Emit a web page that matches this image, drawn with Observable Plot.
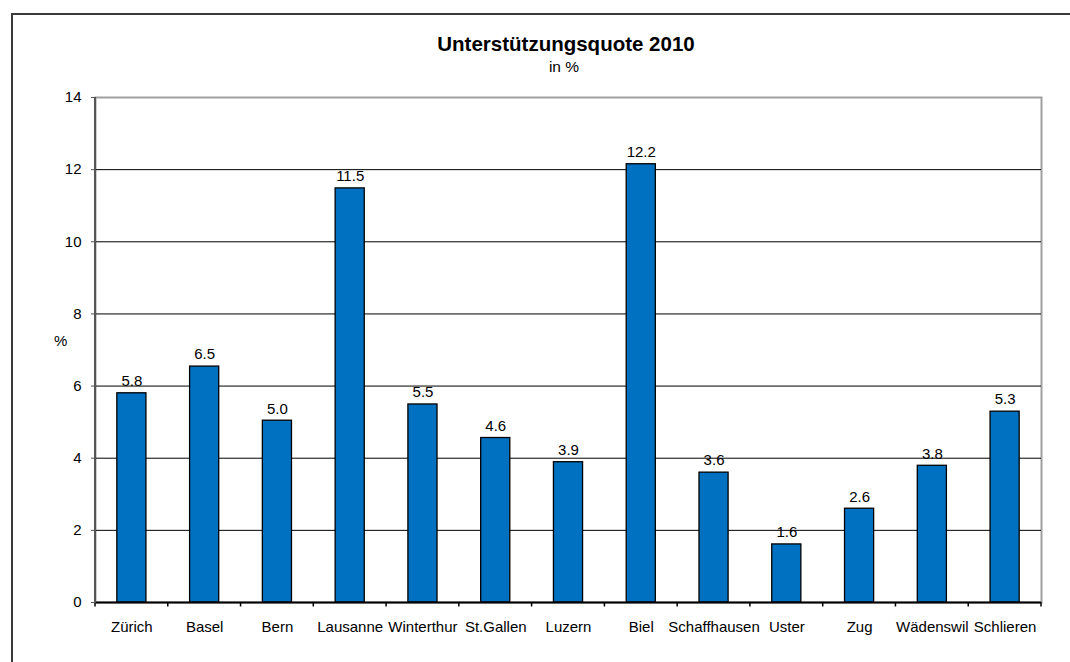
<!DOCTYPE html>
<html>
<head>
<meta charset="utf-8">
<script src="https://cdn.jsdelivr.net/npm/d3@7"></script>
<script src="https://cdn.jsdelivr.net/npm/@observablehq/plot@0.6"></script>
<style>
  html, body { margin: 0; padding: 0; background: #fff; overflow: hidden; }
  #wrap { position: relative; width: 1070px; height: 662px; font-family: "Liberation Sans", Arial, sans-serif; color: #000; }
  #frame { position: absolute; left: 11px; top: 13px; width: 1100px; height: 700px; border-left: 2px solid #3a3a3a; border-top: 2px solid #3a3a3a; }
  #title { position: absolute; left: 93px; width: 946px; top: 34px; text-align: center; font-weight: bold; font-size: 20.5px; line-height: 20px; }
  #subtitle { position: absolute; left: 91px; width: 946px; top: 58.5px; text-align: center; font-size: 15.5px; line-height: 15.5px; }
  #ylab { position: absolute; left: 54px; top: 332px; font-size: 15px; line-height: 17px; }
  #chart { position: absolute; left: 0; top: 80px; }
</style>
</head>
<body>
<div id="wrap">
  <div id="frame"></div>
  <div id="title">Unterstützungsquote 2010</div>
  <div id="subtitle">in %</div>
  <div id="ylab">%</div>
  <div id="chart"></div>
</div>
<script>
const categories = ["Zürich", "Basel", "Bern", "Lausanne", "Winterthur", "St.Gallen", "Luzern", "Biel", "Schaffhausen", "Uster", "Zug", "Wädenswil", "Schlieren"];
const values = [5.80, 6.54, 5.04, 11.48, 5.49, 4.56, 3.89, 12.15, 3.60, 1.61, 2.60, 3.79, 5.29];
const yTicks = [0, 2, 4, 6, 8, 10, 12, 14];

const data = categories.map((c, i) => ({city: c, value: values[i]}));

const plot = Plot.plot({
  width: 1070,
  height: 582,
  marginTop: 17,
  marginLeft: 95,
  marginRight: 29,
  marginBottom: 60,
  style: {fontFamily: "'Liberation Sans', Arial, sans-serif", fontSize: "15px", color: "#000", background: "transparent", overflow: "visible"},
  x: {domain: categories, paddingInner: 0.6, paddingOuter: 0.3, round: false, label: null},
  y: {domain: [0, 14], ticks: yTicks, label: null},
  marks: [
    Plot.frame({stroke: "#a0a0a0", strokeWidth: 2}),
    Plot.ruleY(yTicks.filter(v => v > 0 && v < 14), {stroke: "#000", strokeWidth: 1}),
    Plot.barY(data, {x: "city", y: "value", fill: "#0070C0", stroke: "#000", strokeWidth: 1.3}),
    Plot.text(data, {x: "city", y: "value", text: d => d.value.toFixed(1), dy: -12, fontSize: 15, fill: "#000"}),
    Plot.axisY({ticks: yTicks, tickSize: 4, tickPadding: 10, label: null, stroke: "#555", fill: "#000", fontSize: 15}),
    Plot.axisX({tickSize: 0, tickPadding: 19, label: null, fill: "#000", fontSize: 15}),
    Plot.ruleY([0], {stroke: "#000", strokeWidth: 2})
  ]
});

document.getElementById("chart").appendChild(plot);

// left axis line and category boundary ticks, from the plot's own scales
const sx = plot.scale("x");
const sy = plot.scale("y");
const bw = sx.bandwidth;
const step = sx.step || bw / (1 - 0.6);
const gap = (step - bw) / 2;
const bounds = categories.map(c => sx.apply(c) - gap);
bounds.push(sx.apply(categories[categories.length - 1]) + bw + gap);
const svg = d3.select(plot);
const g = svg.append("g");
const y0 = sy.apply(0), yTop = sy.apply(14);
g.selectAll("line.bt").data(bounds).join("line")
  .attr("x1", d => d).attr("x2", d => d)
  .attr("y1", y0).attr("y2", y0 + 4.5)
  .attr("stroke", "#000").attr("stroke-width", 1.5);
g.append("line")
  .attr("x1", bounds[0]).attr("x2", bounds[0])
  .attr("y1", yTop).attr("y2", y0 + 1)
  .attr("stroke", "#555").attr("stroke-width", 2);
</script>
</body>
</html>
